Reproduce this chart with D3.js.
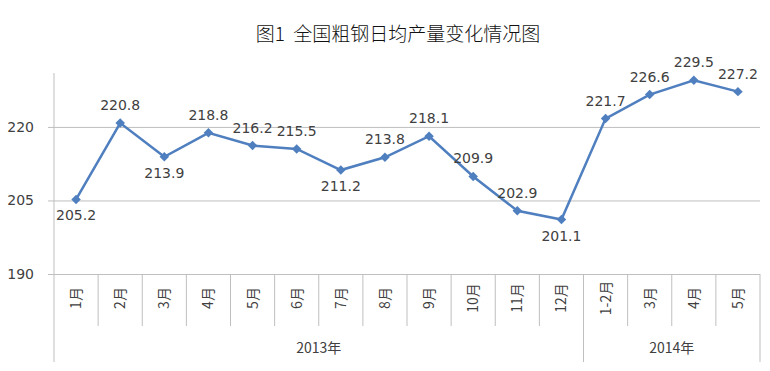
<!DOCTYPE html>
<html><head><meta charset="utf-8">
<script src="https://cdn.jsdelivr.net/npm/d3@7"></script>
<style>body{margin:0;background:#fff}svg{display:block}</style>
</head><body><svg id="c" width="770" height="371"></svg>
<script>
const categories = ["1月","2月","3月","4月","5月","6月","7月","8月","9月","10月","11月","12月","1-2月","3月","4月","5月"];
const values = [205.2,220.8,213.9,218.8,216.2,215.5,211.2,213.8,218.1,209.9,202.9,201.1,221.7,226.6,229.5,227.2];
const labelSide = ["b","a","b","a","a","a","b","a","a","a","a","b","a","a","a","a"];
const years = [{label:"2013年", start:0, end:12},{label:"2014年", start:12, end:16}];
const yTicks = [190,205,220];
const title = "图1\u00a0\u00a0全国粗钢日均产量变化情况图";

const svg = d3.select("#c");
const L = 54, R = 760, T = 73, B = 274;
const x = d3.scaleBand().domain(d3.range(categories.length)).range([L, R]).padding(0);
const y = d3.scaleLinear().domain([190, 231]).range([B, T]);
const txt = "#404040", grid = "#bfbfbf", blue = "#4f7fbf";

svg.append("text").attr("x", 398).attr("y", 41).attr("text-anchor","middle")
  .attr("font-family","'Noto Sans CJK SC'").attr("font-weight",300).attr("font-size",19).attr("fill","#111").text(title);

// gridlines + y axis
const yAxis = d3.axisLeft(y).tickValues(yTicks).tickSize(-(R-L)).tickPadding(20).tickFormat(d3.format("d"));
const ga = svg.append("g").attr("transform",`translate(${L},0)`).call(yAxis);
ga.select(".domain").remove();
ga.selectAll(".tick line").attr("stroke",grid).attr("x1",-6);
ga.selectAll(".tick text").attr("fill",txt).attr("font-family","'DejaVu Sans'").attr("font-size",14);

// vertical axis line
svg.append("line").attr("x1",L).attr("x2",L).attr("y1",T).attr("y2",362).attr("stroke",grid);
// category separators
const seps = svg.append("g");
d3.range(1, categories.length+1).forEach(i=>{
  const xx = i===categories.length ? R : x(i);
  const long = years.some(g=>g.end===i);
  seps.append("line").attr("x1",xx).attr("x2",xx).attr("y1",B).attr("y2", long?362:326).attr("stroke",grid);
});
// category labels
svg.append("g").selectAll("text").data(categories).join("text")
  .attr("transform",(d,i)=>`translate(${x(i)+x.bandwidth()/2+5},298) rotate(-90)`)
  .attr("text-anchor","middle").attr("font-family","'Noto Sans CJK SC'").attr("font-size",14).attr("fill",txt)
  .text(d=>d);
// year labels
svg.append("g").selectAll("text").data(years).join("text")
  .attr("x",d=>(x(d.start)+(d.end>=categories.length?R:x(d.end)))/2).attr("y",353)
  .attr("text-anchor","middle").attr("font-family","'Noto Sans CJK SC'").attr("font-size",14).attr("fill",txt)
  .text(d=>d.label);

// line
const cx = i => x(i)+x.bandwidth()/2;
svg.append("path").datum(values).attr("fill","none").attr("stroke",blue).attr("stroke-width",2.5)
  .attr("d", d3.line().x((d,i)=>cx(i)).y(d=>y(d)));
svg.append("g").selectAll("path").data(values).join("path")
  .attr("d", d3.symbol(d3.symbolSquare, 45))
  .attr("transform",(d,i)=>`translate(${cx(i)},${y(d)}) rotate(45)`).attr("fill",blue);
// data labels
svg.append("g").selectAll("text").data(values).join("text")
  .attr("x",(d,i)=>cx(i)).attr("y",(d,i)=>y(d)+(labelSide[i]==="a"?-17:17))
  .attr("dominant-baseline","middle").attr("text-anchor","middle")
  .attr("font-family","'DejaVu Sans'").attr("font-size",14).attr("fill",txt)
  .text(d=>d3.format(".1f")(d));
</script></body></html>
